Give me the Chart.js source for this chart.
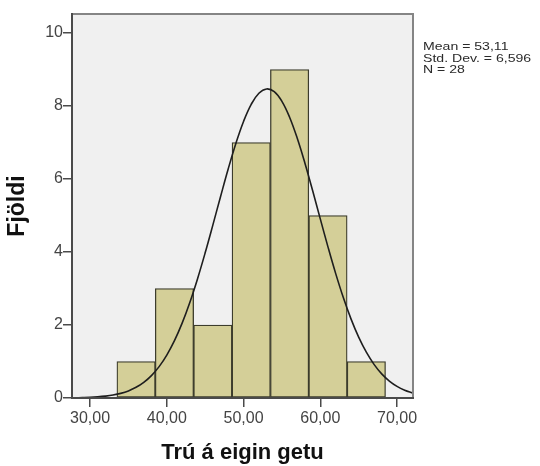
<!DOCTYPE html>
<html>
<head>
<meta charset="utf-8">
<script src="https://cdn.jsdelivr.net/npm/chart.js@4/dist/chart.umd.min.js"></script>
<style>
  html, body { margin: 0; padding: 0; background: #ffffff; }
  #wrap { width: 540px; height: 466px; position: relative; }
</style>
</head>
<body>
<div id="wrap"><canvas id="c" width="540" height="466"></canvas></div>
<script>
// ---- data ----
const binCenters = [36, 41, 46, 51, 56, 61, 66];
const counts = [1, 3, 2, 7, 9, 5, 1];
const xTicks = [30, 40, 50, 60, 70];
const yTicks = [0, 2, 4, 6, 8, 10];
const curveX = [27.6, 28, 29, 30, 31, 32, 33, 34, 35, 36, 37, 38, 39, 40, 41, 42, 43, 44, 45, 46, 47, 48, 49, 50,
  51, 52, 53, 54, 55, 56, 57, 58, 59, 60, 61, 62, 63, 64, 65, 66, 67, 68, 69, 70, 71, 72, 72.1];
const curveY = [0.005, 0.006, 0.011, 0.018, 0.031, 0.051, 0.081, 0.127, 0.195, 0.293, 0.429, 0.614, 0.859, 1.175,
  1.570, 2.050, 2.616, 3.263, 3.977, 4.737, 5.514, 6.273, 6.974, 7.577, 8.046, 8.349, 8.467, 8.391, 8.127, 7.693,
  7.116, 6.433, 5.684, 4.907, 4.141, 3.414, 2.751, 2.167, 1.668, 1.255, 0.922, 0.662, 0.465, 0.319, 0.214, 0.140, 0.134];
const statsLines = ["Mean = 53,11", "Std. Dev. = 6,596", "N = 28"];
const xTitle = "Trú á eigin getu";
const yTitle = "Fjöldi";

const frameAndStats = {
  id: 'frameAndStats',
  beforeDraw(chart) {
    const { ctx, chartArea: a } = chart;
    ctx.save();
    ctx.fillStyle = '#f0f0f0';
    ctx.fillRect(a.left, a.top, a.right - a.left, a.bottom - a.top);
    ctx.restore();
  },
  afterDraw(chart) {
    const { ctx, chartArea: a } = chart;
    ctx.save();
    ctx.strokeStyle = '#858585';
    ctx.lineWidth = 2;
    ctx.beginPath();
    ctx.moveTo(a.left, a.top);
    ctx.lineTo(a.right, a.top);
    ctx.lineTo(a.right, a.bottom);
    ctx.stroke();
    ctx.strokeStyle = '#4a4a4a';
    ctx.beginPath();
    ctx.moveTo(a.left, a.top - 1);
    ctx.lineTo(a.left, a.bottom);
    ctx.lineTo(a.right + 1, a.bottom);
    ctx.stroke();
    // stats text
    ctx.fillStyle = '#2a2a2a';
    ctx.font = '11px "Liberation Sans", Arial, sans-serif';
    ctx.textBaseline = 'middle';
    const x0 = a.right + 10;
    statsLines.forEach((t, i) => {
      ctx.save();
      ctx.translate(x0, 47 + i * 11.5);
      ctx.scale(1.28, 1);
      ctx.fillText(t, 0, 0);
      ctx.restore();
    });
    ctx.restore();
  }
};

new Chart(document.getElementById('c'), {
  type: 'bar',
  data: {
    datasets: [
      {
        type: 'line',
        data: curveX.map((x, i) => ({ x: x, y: curveY[i] })),
        borderColor: '#1e1e1e',
        borderWidth: 1.6,
        pointRadius: 0,
        tension: 0.4,
        fill: false,
        order: 0
      },
      {
        type: 'bar',
        data: binCenters.map((x, i) => ({ x: x, y: counts[i] })),
        backgroundColor: '#d4cf98',
        borderColor: '#3c3c2c',
        borderWidth: 1.3,
        borderSkipped: false,
        barPercentage: 1,
        categoryPercentage: 1,
        order: 1
      }
    ]
  },
  options: {
    responsive: false,
    animation: false,
    events: [],
    layout: { padding: { top: 14, right: 127, left: 0, bottom: 0 } },
    plugins: { legend: { display: false }, tooltip: { enabled: false } },
    scales: {
      x: {
        type: 'linear',
        offset: false,
        min: 27.65,
        max: 72.08,
        afterBuildTicks(s) { s.ticks = xTicks.map(v => ({ value: v })); },
        afterFit(s) { s.height = 68; },
        grid: { offset: false, drawOnChartArea: false, drawTicks: true, tickLength: 9, color: '#4a4a4a', lineWidth: 1.5 },
        border: { display: true, color: '#4a4a4a', width: 2 },
        ticks: {
          padding: 2,
          color: '#444444',
          font: { size: 16, family: '"Liberation Sans", Arial, sans-serif' },
          maxRotation: 0,
          callback: v => v.toFixed(2).replace('.', ',')
        },
        title: {
          display: true,
          text: xTitle,
          color: '#111111',
          font: { size: 22, weight: 'bold', family: '"Liberation Sans", Arial, sans-serif' },
          padding: { top: 0, bottom: 0 }
        }
      },
      y: {
        min: 0,
        max: 10.52,
        afterBuildTicks(s) { s.ticks = yTicks.map(v => ({ value: v })); },
        afterFit(s) { s.width = 72; },
        grid: { drawOnChartArea: false, drawTicks: true, tickLength: 9, color: '#4a4a4a', lineWidth: 1.5 },
        border: { display: true, color: '#4a4a4a', width: 2 },
        ticks: {
          padding: 0,
          color: '#444444',
          font: { size: 16, family: '"Liberation Sans", Arial, sans-serif' }
        },
        title: {
          display: true,
          text: yTitle,
          color: '#111111',
          font: { size: 23, weight: 'bold', family: '"Liberation Sans", Arial, sans-serif' },
          padding: { top: 4, bottom: 0 }
        }
      }
    }
  },
  plugins: [frameAndStats]
});
</script>
</body>
</html>
